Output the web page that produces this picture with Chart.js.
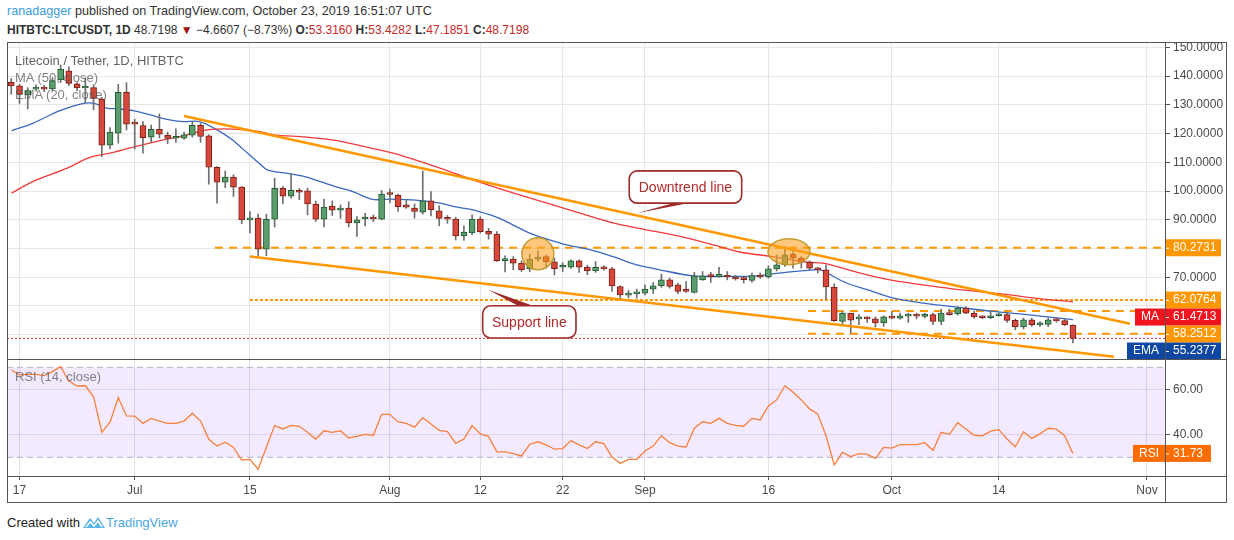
<!DOCTYPE html>
<html>
<head>
<meta charset="utf-8">
<title>LTCUSDT 1D</title>
<script src="https://cdn.jsdelivr.net/npm/chart.js@4.4.1/dist/chart.umd.min.js"></script>
<style>
  body { margin: 0; width: 1234px; height: 540px; overflow: hidden; position: relative; background: #fff;
         font-family: "Liberation Sans", Arial, sans-serif; color: #333; }
  .abs { position: absolute; white-space: nowrap; }
  .red { color: #c62828; }
  .pane-title { font-size: 13px; color: rgba(70,70,70,0.85); }
  .ind-title { font-size: 13px; color: rgba(90,90,90,0.75); }
  .line { position: absolute; background: #555; }
  canvas { position: absolute; left: 0; }
</style>
</head>
<body>
<div class="abs" style="left:7px;top:4px;font-size:12.6px"><span style="color:#3a9ddc">ranadagger</span> published on TradingView.com, October 23, 2019 16:51:07 UTC</div>
<div class="abs" style="left:7px;top:23px;font-size:12px"><b>HITBTC:LTCUSDT, 1D</b> 48.7198 <span style="color:#a01010">&#9660;</span> &minus;4.6607 (&minus;8.73%) <b>O:</b><span class="red">53.3160</span> <b>H:</b><span class="red">53.4282</span> <b>L:</b><span class="red">47.1851</span> <b>C:</b><span class="red">48.7198</span></div>

<canvas id="price" width="1234" height="323" style="top:36px"></canvas>
<canvas id="rsi" width="1234" height="144" style="top:359px"></canvas>

<div class="abs pane-title" style="left:15px;top:53px">Litecoin / Tether, 1D, HITBTC</div>
<div class="abs ind-title" style="left:15px;top:70px">MA (50, close)</div>
<div class="abs ind-title" style="left:15px;top:87px">EMA (20, close)</div>
<div class="abs ind-title" style="left:15px;top:369px">RSI (14, close)</div>

<div class="line" style="left:7px;top:42px;width:1220px;height:1px"></div>
<div class="line" style="left:7px;top:359px;width:1220px;height:1px"></div>
<div class="line" style="left:7px;top:476px;width:1220px;height:1px"></div>
<div class="line" style="left:7px;top:502px;width:1220px;height:1px"></div>
<div class="line" style="left:7px;top:42px;width:1px;height:461px"></div>
<div class="line" style="left:1226px;top:42px;width:1px;height:461px"></div>
<div class="line" style="left:1165px;top:42px;width:1px;height:461px"></div>

<div class="abs" style="left:7px;top:515px;font-size:13px;color:#222">Created with</div>
<svg class="abs" style="left:82px;top:514px" width="24" height="15" viewBox="0 0 24 15">
  <path d="M1 14 L8 4 L12 9 L16 3 L23 14 Z" fill="#5ab3e6"/>
  <path d="M4 13 L8.5 8 L12 12 L16 7 L20 13" stroke="#fff" stroke-width="1.5" fill="none"/>
</svg>
<div class="abs" style="left:106px;top:515px;font-size:13px;color:#4aa8e0">TradingView</div>

<script>
// day index: 0 = 17 Jun 2019, candles run 16 Jun .. 23 Oct
const firstDay = -1;
const opens = [
  137.9, 136.6, 133.5, 135.5, 136.2, 135.6, 138.7, 141.9, 137.3, 135.9,
  136.0, 132.0, 116.0, 120.2, 134.4, 124.0, 122.8, 118.8, 121.5, 119.5,
  118.4, 118.4, 119.5, 122.9, 119.2, 108.3, 103.1, 104.9, 101.4, 90.0,
  90.6, 79.8, 90.2, 101.0, 98.2, 100.3, 100.1, 95.5, 90.2, 94.8,
  93.4, 94.1, 88.9, 90.3, 90.6, 90.2, 99.1, 98.6, 95.2, 94.1,
  92.7, 96.6, 93.1, 90.5, 90.3, 84.4, 85.4, 90.3, 86.0, 85.0,
  75.8, 76.3, 74.9, 72.9, 76.3, 77.2, 75.4, 73.5, 73.5, 75.7,
  73.5, 72.2, 73.6, 72.9, 66.8, 63.8, 64.2, 64.5, 65.9, 67.0,
  69.1, 67.4, 65.3, 64.7, 69.1, 70.5, 70.1, 70.8, 70.1, 69.5,
  68.9, 70.8, 70.1, 72.9, 74.3, 78.1, 76.7, 75.3, 73.2, 72.6,
  66.6, 54.6, 57.5, 55.5, 56.2, 55.5, 54.1, 56.4, 55.8, 56.5,
  56.6, 56.4, 57.0, 54.6, 57.5, 57.2, 59.3, 57.5, 56.2, 55.9,
  56.6, 57.0, 55.0, 52.7, 55.2, 53.4, 53.6, 55.2, 54.9, 53.316
];
const highs = [
  139.2, 137.2, 136.0, 137.0, 136.8, 139.5, 143.9, 143.3, 137.8, 139.4,
  137.0, 132.6, 122.1, 137.2, 137.8, 125.0, 124.2, 123.0, 126.9, 120.5,
  121.7, 120.5, 124.2, 123.6, 119.6, 108.5, 107.0, 105.7, 101.6, 92.9,
  92.0, 92.0, 104.5, 101.6, 106.0, 101.0, 101.0, 96.5, 97.2, 96.6,
  95.2, 96.3, 91.1, 92.3, 91.7, 100.2, 100.7, 99.0, 97.0, 95.5,
  107.0, 99.8, 94.9, 91.5, 90.9, 87.9, 91.7, 91.1, 87.0, 85.9,
  77.5, 77.2, 75.7, 78.1, 79.2, 77.8, 76.7, 75.1, 76.1, 76.1,
  74.2, 75.5, 74.0, 73.5, 67.0, 65.4, 65.9, 67.4, 68.2, 71.1,
  69.7, 68.0, 68.5, 71.7, 72.0, 71.7, 73.5, 72.0, 70.7, 70.1,
  71.5, 71.5, 74.0, 77.8, 80.7, 79.0, 77.2, 75.7, 73.5, 74.3,
  67.7, 58.1, 57.5, 57.0, 56.2, 56.2, 56.6, 58.1, 57.5, 57.5,
  57.5, 57.5, 57.5, 58.9, 58.9, 59.8, 59.8, 58.2, 56.6, 58.2,
  57.6, 57.8, 55.5, 55.8, 55.8, 54.6, 55.8, 55.9, 55.5, 53.4282
];
const lows = [
  133.7, 130.5, 128.6, 134.8, 134.6, 135.0, 137.8, 136.8, 135.0, 130.7,
  128.3, 112.0, 114.7, 116.7, 121.3, 114.6, 113.2, 117.0, 118.5, 116.5,
  116.9, 118.0, 118.8, 117.0, 102.4, 95.8, 101.2, 98.1, 88.6, 85.4,
  77.2, 77.5, 87.5, 95.6, 97.5, 97.0, 91.7, 89.4, 87.5, 91.5,
  90.5, 87.5, 84.2, 87.9, 89.4, 90.0, 96.0, 92.9, 94.0, 90.6,
  92.0, 91.4, 87.9, 88.8, 83.0, 82.8, 84.8, 85.4, 83.3, 75.5,
  71.9, 72.6, 72.0, 71.9, 75.5, 73.2, 70.8, 72.0, 73.1, 71.7,
  70.9, 71.7, 72.5, 65.1, 62.4, 62.8, 62.8, 63.9, 64.3, 66.5,
  66.2, 64.3, 64.7, 64.5, 68.9, 68.2, 70.0, 69.1, 69.0, 68.0,
  68.3, 69.6, 69.7, 72.2, 73.8, 73.2, 73.2, 72.6, 71.5, 62.2,
  54.6, 53.5, 50.6, 53.5, 54.3, 52.7, 52.9, 55.5, 55.4, 54.3,
  55.5, 55.8, 53.5, 53.5, 56.8, 56.8, 57.3, 55.8, 55.6, 55.6,
  56.5, 54.3, 51.7, 52.0, 52.9, 52.9, 52.8, 54.4, 53.1, 47.1851
];
const closes = [
  136.6, 133.7, 135.0, 136.2, 135.5, 138.5, 142.5, 137.5, 135.9, 136.1,
  132.3, 116.0, 120.5, 134.4, 123.3, 123.3, 118.6, 121.5, 119.8, 118.3,
  118.8, 119.6, 122.9, 119.0, 108.3, 103.1, 104.9, 101.4, 90.0, 90.5,
  79.8, 90.2, 101.0, 98.2, 100.3, 99.6, 95.5, 90.2, 94.4, 93.4,
  94.1, 88.9, 90.0, 90.6, 90.3, 99.0, 98.8, 94.6, 94.4, 92.9,
  96.6, 93.5, 90.5, 90.2, 84.4, 85.7, 90.3, 85.9, 85.0, 75.8,
  76.3, 74.9, 72.6, 76.3, 76.9, 75.4, 73.0, 73.7, 75.7, 73.5,
  72.2, 73.5, 72.9, 67.0, 63.9, 64.5, 64.4, 65.9, 67.0, 69.1,
  66.8, 65.1, 65.1, 70.5, 70.5, 70.2, 71.1, 70.1, 69.4, 69.2,
  70.6, 70.1, 72.9, 74.3, 77.8, 76.7, 75.3, 73.2, 72.6, 66.6,
  54.9, 57.5, 55.1, 56.2, 55.5, 54.1, 56.2, 55.8, 56.6, 56.6,
  56.5, 57.0, 54.6, 57.5, 57.0, 59.3, 57.5, 56.2, 55.9, 56.6,
  57.0, 55.0, 52.7, 55.2, 53.5, 54.1, 55.2, 54.8, 53.38, 48.7198
];
const rsiValues = [
  68.8, 66.6, 66.9, 66.9, 66.3, 68.1, 70.3, 63.9, 61.7, 61.8,
  56.9, 41.1, 45.6, 56.5, 48.4, 48.3, 45.1, 47.3, 46.1, 45.1,
  45.1, 46.1, 49.6, 46.1, 38.0, 35.0, 36.7, 34.4, 28.8, 29.1,
  24.7, 34.5, 44.1, 42.6, 44.2, 43.8, 41.1, 38.0, 41.8, 41.1,
  41.8, 38.6, 39.3, 40.2, 39.8, 49.1, 49.1, 45.7, 45.1, 43.4,
  47.6, 44.8, 42.0, 41.4, 36.2, 38.1, 44.1, 40.4, 39.3, 32.4,
  32.4, 31.6, 30.6, 35.8, 36.9, 35.5, 33.6, 33.9, 37.4, 35.5,
  33.9, 36.9, 36.1, 30.1, 27.3, 29.1, 29.1, 32.8, 35.0, 39.6,
  36.5, 35.0, 34.6, 42.9, 45.8, 45.1, 47.3, 45.1, 44.2, 43.8,
  47.3, 46.6, 52.8, 55.5, 61.8, 58.9, 55.5, 51.5, 49.3, 39.6,
  26.6, 32.2, 30.3, 31.6, 31.3, 29.5, 34.4, 34.1, 35.6, 35.6,
  35.6, 36.5, 33.1, 41.1, 40.2, 45.4, 42.6, 39.8, 39.5, 41.6,
  42.3, 38.1, 34.7, 41.4, 38.4, 40.4, 42.9, 42.5, 39.6, 31.73
];

// moving averages
const maDays = [-0.95, 1.6, 5.8, 8.6, 11, 13.8, 17.9, 19.9, 22.8, 25.9, 29.2, 30.8, 34.9, 38.6, 42.2, 45.4, 49, 52.3, 55.1, 58.4,
  64.1, 68.1, 72.1, 76.2, 80.3, 84.3, 87.5, 91.5, 95.7, 98.1, 101.8, 106.1, 111.8, 114.2, 119.1, 124.4, 128];
const maValues = [99.3, 103.3, 108, 111.8, 113.2, 115.3, 118.1, 119.2, 121.3, 121.6, 120.7, 119.6, 118.8, 117.6, 115.3, 113.2, 110, 106.8, 103.9, 100.8,
  95.8, 92.3, 88.9, 86.5, 84.2, 81.3, 78.8, 77.2, 75.3, 74.7, 71.7, 68.9, 66.6, 65.7, 64.3, 62.4, 61.4713];
const emaDays = [-0.95, 1.6, 4.9, 7.4, 8.9, 10.6, 11.9, 13.8, 15.9, 17.9, 19.9, 21.9, 24, 25.9, 26.8, 28, 29.2, 30.1, 32.9, 34.9,
  38.1, 40.5, 42.9, 45, 47.1, 49, 51.1, 53.2, 55.1, 57.2, 58.4, 62, 64.1, 66.5, 69.3, 72.1, 75, 77.8, 81.8, 85.9,
  89.9, 91.5, 95.7, 97.3, 98.5, 100.5, 103, 106.1, 109.8, 113.9, 118.3, 122.4, 128];
const emaValues = [121, 123.6, 128, 130.3, 130.6, 128.9, 128.6, 128, 126.5, 125, 124.2, 124.2, 121.3, 117.8, 115.5, 112.5, 109.5, 107.4, 106, 104.9,
  101.8, 99.8, 97.1, 97.2, 97, 96.6, 95.8, 94.4, 93.5, 91.7, 90.4, 85.4, 83.3, 81.3, 79.6, 77.2, 74.3, 72.6, 70.5, 70.3,
  70.5, 71.2, 72.4, 72.6, 70.9, 68, 65.7, 62.8, 61, 59.6, 58.1, 57, 55.2377];

// drawn lines: [startDay, startPrice, endDay, endPrice]
const downtrendLine = [19.99, 126.17, 134.93, 53.83];
const supportLine = [28.0, 77.23, 132.99, 42.35];
// horizontal levels: price and first day
const levelPrices = [80.2731, 62.0764, 58.2512, 50.3];
const levelStarts = [23.75, 28.0, 95.8, 95.8];
const lastClose = 48.7198;

const tickDays = [0, 14, 28, 45, 56, 66, 76, 91, 106, 119, 137];
const tickLabels = ['17', 'Jul', '15', 'Aug', '12', '22', 'Sep', '16', 'Oct', '14', 'Nov'];
const priceTicks = [70, 80, 90, 100, 110, 120, 130, 140, 150];
const priceGridOnly = [50, 60];
const rsiTicks = [40, 60];
const rsiBand = [30, 70];

const xMin = -1.519, xMax = 139.19;

const upFill = '#5d9d6d', upLine = '#1f5a33', downFill = '#d6483b', downLine = '#7a1f17', wickColor = '#6f6f6f';
const orange = '#ff9800';

Chart.defaults.font.family = '"Liberation Sans", Arial, sans-serif';
Chart.defaults.font.size = 12;
Chart.defaults.color = '#4a4a4a';

const days = closes.map((c, i) => i + firstDay);
const rising = closes.map((c, i) => c >= opens[i]);

function noPad(s) { s.paddingTop = 0; s.paddingBottom = 0; s.paddingLeft = 0; s.paddingRight = 0; }

function segment(seg) { return [{x: seg[0], y: seg[1]}, {x: seg[2], y: seg[3]}]; }

const levelDatasets = levelPrices.map((p, i) => ({
  type: 'line',
  data: [{x: levelStarts[i], y: p}, {x: xMax, y: p}],
  borderColor: orange,
  borderWidth: 2,
  borderDash: i === 1 ? [3, 2] : [8, 6],
  pointRadius: 0,
  order: 8
}));

const callouts = [
  {text: 'Downtrend line', box: [74.09, 107.04, 87.75, 95.8], tip: [75.0, 92.3], base: [79.4, 81.2], edge: 'bottom'},
  {text: 'Support line', box: [56.28, 60.09, 67.62, 48.85], tip: [56.96, 65.65], base: [60.57, 62.39], edge: 'top'}
];
const highlights = [
  {day: 62.98, price: 78.17, rx: 16, ry: 16},
  {day: 93.5, price: 78.9, rx: 21, ry: 13}
];

const priceTags = [
  {value: levelPrices[0], color: orange},
  {value: levelPrices[1], color: orange},
  {value: maValues[maValues.length - 1], color: '#f0141e', tag: 'MA'},
  {value: levelPrices[2], color: orange},
  {value: emaValues[emaValues.length - 1], color: '#0d47a1', tag: 'EMA'}
];

function drawTag(ctx, right, cy, color, text, tag, w) {
  ctx.fillStyle = color;
  ctx.fillRect(right, cy - 8.5, w, 17);
  ctx.strokeStyle = '#fff';
  ctx.lineWidth = 1;
  ctx.beginPath(); ctx.moveTo(right, cy + 0.5); ctx.lineTo(right + 4, cy + 0.5); ctx.stroke();
  ctx.fillStyle = '#fff';
  ctx.textAlign = 'left';
  ctx.fillText(text, right + 8, cy);
  if (tag) {
    const tw = ctx.measureText(tag).width + 12;
    ctx.fillStyle = color;
    ctx.fillRect(right - tw, cy - 8.5, tw, 17);
    ctx.fillStyle = '#fff';
    ctx.textAlign = 'center';
    ctx.fillText(tag, right - tw / 2, cy);
  }
}

const priceOverlay = {
  id: 'priceOverlay',
  afterDatasetsDraw(chart) {
    const {ctx, scales: {x, y}} = chart;
    ctx.save();
    highlights.forEach(h => {
      ctx.beginPath();
      ctx.ellipse(x.getPixelForValue(h.day), y.getPixelForValue(h.price), h.rx, h.ry, 0, 0, Math.PI * 2);
      ctx.fillStyle = 'rgba(255,160,30,0.58)';
      ctx.fill();
      ctx.strokeStyle = 'rgba(190,150,40,0.9)';
      ctx.lineWidth = 1.5;
      ctx.stroke();
    });
    callouts.forEach(c => {
      const x0 = x.getPixelForValue(c.box[0]), y0 = y.getPixelForValue(c.box[1]);
      const x1 = x.getPixelForValue(c.box[2]), y1 = y.getPixelForValue(c.box[3]);
      const ey = c.edge === 'bottom' ? y1 : y0;
      ctx.beginPath();
      ctx.moveTo(x.getPixelForValue(c.base[0]), ey);
      ctx.lineTo(x.getPixelForValue(c.tip[0]), y.getPixelForValue(c.tip[1]));
      ctx.lineTo(x.getPixelForValue(c.base[1]), ey);
      ctx.closePath();
      ctx.fillStyle = '#9e2a2a';
      ctx.fill();
      ctx.beginPath();
      ctx.roundRect(x0, y0, x1 - x0, y1 - y0, 8);
      ctx.fillStyle = '#fff';
      ctx.fill();
      ctx.strokeStyle = '#9e2a2a';
      ctx.lineWidth = 1.6;
      ctx.stroke();
      ctx.fillStyle = '#b02a2a';
      ctx.font = '14px "Liberation Sans", Arial, sans-serif';
      ctx.textAlign = 'center';
      ctx.textBaseline = 'middle';
      ctx.fillText(c.text, (x0 + x1) / 2, (y0 + y1) / 2 + 1);
    });
    ctx.restore();
  },
  afterDraw(chart) {
    const {ctx, scales: {y}, chartArea} = chart;
    const items = priceTags.map(t => Object.assign({py: y.getPixelForValue(t.value)}, t)).sort((a, b) => a.py - b.py);
    let last = -Infinity;
    ctx.save();
    ctx.font = '12px "Liberation Sans", Arial, sans-serif';
    ctx.textBaseline = 'middle';
    items.forEach(t => {
      const cy = Math.max(t.py, last + 17);
      last = cy;
      drawTag(ctx, chartArea.right, cy, t.color, t.value.toFixed(4), t.tag, 56);
    });
    ctx.restore();
  }
};

new Chart(document.getElementById('price'), {
  type: 'bar',
  data: {
    datasets: [
      ...levelDatasets,
      {
        type: 'line',
        data: [{x: xMin, y: lastClose}, {x: xMax, y: lastClose}],
        borderColor: '#e53935', borderWidth: 1, borderDash: [2, 2], pointRadius: 0, order: 9
      },
      {
        type: 'line', label: 'MA (50, close)',
        data: maDays.map((d, i) => ({x: d, y: maValues[i]})),
        borderColor: '#f23a3a', borderWidth: 1.3, pointRadius: 0, tension: 0.3, order: 7
      },
      {
        type: 'line', label: 'EMA (20, close)',
        data: emaDays.map((d, i) => ({x: d, y: emaValues[i]})),
        borderColor: '#3a68c0', borderWidth: 1.3, pointRadius: 0, tension: 0.3, order: 7
      },
      {
        label: 'wicks',
        data: days.map((d, i) => ({x: d, y: [lows[i], highs[i]]})),
        backgroundColor: wickColor, barThickness: 1, grouped: false, order: 5
      },
      {
        label: 'LTCUSDT',
        data: days.map((d, i) => ({x: d, y: [opens[i], closes[i]]})),
        backgroundColor: rising.map(r => r ? upFill : downFill),
        borderColor: rising.map(r => r ? upLine : downLine),
        borderWidth: 1, borderSkipped: false, barThickness: 6, minBarLength: 2, grouped: false, order: 4
      },
      {
        type: 'line', data: segment(downtrendLine),
        borderColor: orange, borderWidth: 2.5, pointRadius: 0, order: 2
      },
      {
        type: 'line', data: segment(supportLine),
        borderColor: orange, borderWidth: 2.5, pointRadius: 0, order: 2
      }
    ]
  },
  options: {
    responsive: false,
    animation: false,
    events: [],
    layout: {padding: {left: 7, right: 7, top: 6, bottom: 0}},
    plugins: {legend: {display: false}, tooltip: {enabled: false}},
    scales: {
      x: {
        type: 'linear', min: xMin, max: xMax, offset: false,
        grid: {offset: false, color: '#e6e6e6', drawTicks: false},
        border: {display: false},
        ticks: {display: false},
        afterBuildTicks: s => { s.ticks = tickDays.map(v => ({value: v})); },
        afterFit: s => { s.height = 0; noPad(s); }
      },
      y: {
        position: 'right', min: 41.55, max: 151.9, beginAtZero: false,
        grid: {color: '#e6e6e6', tickColor: '#555', tickLength: 5},
        border: {display: true, color: '#555'},
        ticks: {padding: 3, autoSkip: false, callback: v => v >= 70 ? v.toFixed(4) : ''},
        afterBuildTicks: s => { s.ticks = priceGridOnly.concat(priceTicks).map(v => ({value: v})); },
        afterFit: s => { s.width = 62; noPad(s); }
      }
    }
  },
  plugins: [priceOverlay]
});

const rsiOverlay = {
  id: 'rsiOverlay',
  afterDraw(chart) {
    const {ctx, scales: {y}, chartArea} = chart;
    const v = rsiValues[rsiValues.length - 1];
    ctx.save();
    ctx.font = '12px "Liberation Sans", Arial, sans-serif';
    ctx.textBaseline = 'middle';
    drawTag(ctx, chartArea.right, y.getPixelForValue(v), '#ff6d00', v.toFixed(2), 'RSI', 46);
    ctx.restore();
  }
};

new Chart(document.getElementById('rsi'), {
  type: 'line',
  data: {
    datasets: [
      {
        data: [{x: xMin, y: rsiBand[1]}, {x: xMax, y: rsiBand[1]}],
        borderColor: '#b9b1c2', borderWidth: 1, borderDash: [6, 4], pointRadius: 0,
        fill: {value: rsiBand[0]}, backgroundColor: 'rgba(155,80,255,0.12)', order: 3
      },
      {
        data: [{x: xMin, y: rsiBand[0]}, {x: xMax, y: rsiBand[0]}],
        borderColor: '#b9b1c2', borderWidth: 1, borderDash: [6, 4], pointRadius: 0, order: 3
      },
      {
        label: 'RSI (14, close)',
        data: days.map((d, i) => ({x: d, y: rsiValues[i]})),
        borderColor: '#f7803c', borderWidth: 1.3, pointRadius: 0, tension: 0, order: 1
      }
    ]
  },
  options: {
    responsive: false,
    animation: false,
    events: [],
    layout: {padding: {left: 7, right: 7, top: 0, bottom: 0}},
    plugins: {legend: {display: false}, tooltip: {enabled: false}},
    scales: {
      x: {
        type: 'linear', min: xMin, max: xMax, offset: false,
        grid: {color: '#e4e0e8', tickColor: '#555', tickLength: 4},
        border: {display: true, color: '#555'},
        ticks: {padding: 3, autoSkip: false, maxRotation: 0,
          callback: v => { const k = tickDays.indexOf(v); return k < 0 ? '' : tickLabels[k]; }},
        afterBuildTicks: s => { s.ticks = tickDays.map(v => ({value: v})); },
        afterFit: s => { s.height = 27; noPad(s); }
      },
      y: {
        position: 'right', min: 21.69, max: 73.69,
        grid: {color: 'rgba(120,100,150,0.18)', tickColor: '#555', tickLength: 5},
        border: {display: true, color: '#555'},
        ticks: {padding: 3, callback: v => v.toFixed(2)},
        afterBuildTicks: s => { s.ticks = rsiTicks.map(v => ({value: v})); },
        afterFit: s => { s.width = 62; noPad(s); }
      }
    }
  },
  plugins: [rsiOverlay]
});
</script>
</body>
</html>
